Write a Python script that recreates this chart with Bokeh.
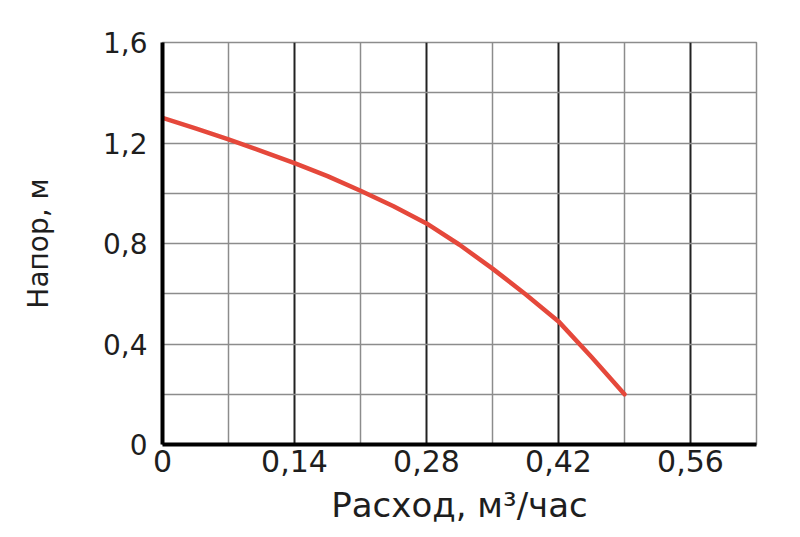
from bokeh.plotting import figure
from bokeh.models import FixedTicker, Range1d
from bokeh.embed import file_html
from bokeh.resources import INLINE

# Data
flow = [0, 0.035, 0.07, 0.105, 0.14, 0.175, 0.21, 0.245, 0.28, 0.315, 0.35, 0.385, 0.42, 0.455, 0.49]
head = [1.300, 1.258, 1.214, 1.168, 1.120, 1.068, 1.010, 0.948, 0.880, 0.795, 0.700, 0.598, 0.490, 0.348, 0.200]

x_ticks = [0, 0.14, 0.28, 0.42, 0.56]
x_tick_labels = ["0", "0,14", "0,28", "0,42", "0,56"]
x_minor = [0.07, 0.21, 0.35, 0.49, 0.63]
y_ticks = [0, 0.4, 0.8, 1.2, 1.6]
y_tick_labels = ["0", "0,4", "0,8", "1,2", "1,6"]
y_minor = [0.2, 0.6, 1.0, 1.4]
x_label = "Расход, м³/час"
y_label = "Напор, м"

FONT = "DejaVu Sans"
TXT = "#1e1e1e"
GRID_MINOR = "#8c8c8c"
GRID_MAJOR = "#222222"

p = figure(width=792, height=529, output_backend="svg", toolbar_location=None,
           x_range=Range1d(0, 0.63), y_range=Range1d(0, 1.6),
           min_border_left=162, min_border_top=42, min_border_right=36, min_border_bottom=85)
p.background_fill_color = "white"
p.border_fill_color = "white"
p.outline_line_color = GRID_MINOR
p.outline_line_width = 1.5

xt = FixedTicker(ticks=x_ticks, minor_ticks=x_minor)
yt = FixedTicker(ticks=y_ticks, minor_ticks=y_minor)
p.xaxis.ticker = xt
p.yaxis.ticker = yt
p.xgrid.ticker = xt
p.ygrid.ticker = yt

p.xaxis.major_label_overrides = dict(zip(x_ticks, x_tick_labels))
p.yaxis.major_label_overrides = dict(zip(y_ticks, y_tick_labels))

p.xgrid.grid_line_color = GRID_MAJOR
p.xgrid.grid_line_width = 2
p.xgrid.minor_grid_line_color = GRID_MINOR
p.xgrid.minor_grid_line_width = 1.5
p.ygrid.grid_line_color = GRID_MINOR
p.ygrid.grid_line_width = 1.5
p.ygrid.minor_grid_line_color = GRID_MINOR
p.ygrid.minor_grid_line_width = 1.5

for ax in (p.xaxis, p.yaxis):
    ax.axis_line_color = "black"
    ax.axis_line_width = 4
    ax.major_tick_line_color = None
    ax.minor_tick_line_color = None
    ax.major_tick_out = 0
    ax.major_tick_in = 0
    ax.major_label_text_font = FONT
    ax.major_label_text_color = TXT
    ax.axis_label_text_font = FONT
    ax.axis_label_text_font_style = "normal"
    ax.axis_label_text_color = TXT

p.xaxis.major_label_text_font_size = "30px"
p.yaxis.major_label_text_font_size = "28px"
p.xaxis.axis_label = x_label
p.yaxis.axis_label = y_label
p.xaxis.axis_label_text_font_size = "34px"
p.yaxis.axis_label_text_font_size = "28px"
p.xaxis.major_label_standoff = 1
p.yaxis.major_label_standoff = 11
p.xaxis.axis_label_standoff = 10
p.yaxis.axis_label_standoff = 45

p.line(flow, head, line_color="#e5483b", line_width=4.5, line_cap="round", line_join="round")

open("out.html", "w").write(file_html(p, INLINE))
